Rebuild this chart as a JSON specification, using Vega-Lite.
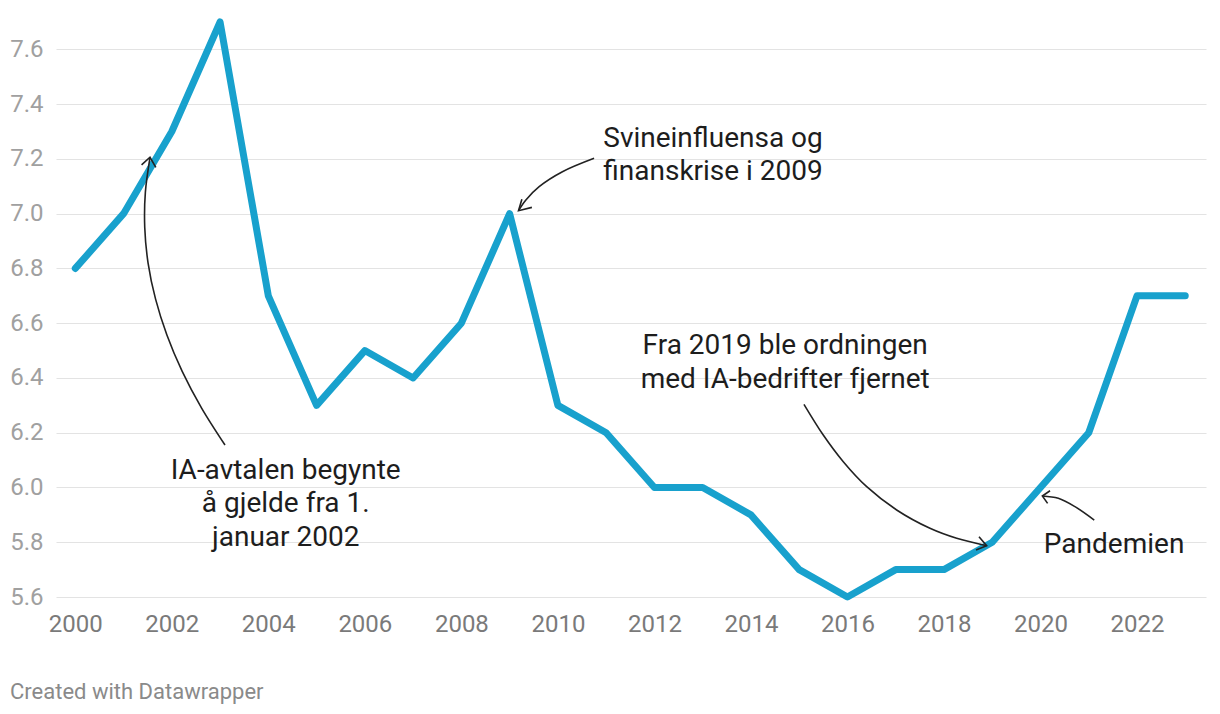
{
  "$schema": "https://vega.github.io/schema/vega-lite/v6.json",
  "width": 1150,
  "height": 575,
  "autosize": {"type": "none"},
  "padding": {"left": 56, "top": 22, "right": 14, "bottom": 117},
  "background": "#ffffff",
  "config": {
    "font": "Roboto",
    "view": {"stroke": null},
    "axis": {"domain": false, "ticks": false, "labelFont": "Roboto", "title": null}
  },
  "title": {
    "text": "Created with Datawrapper",
    "orient": "bottom",
    "anchor": "start",
    "frame": "group",
    "font": "Roboto",
    "fontSize": 22,
    "fontWeight": "normal",
    "color": "#8a8a8a",
    "dx": -46,
    "offset": 46
  },
  "datasets": {
    "series": [
      {"year": 2000, "value": 6.8},
      {"year": 2001, "value": 7.0},
      {"year": 2002, "value": 7.3},
      {"year": 2003, "value": 7.7},
      {"year": 2004, "value": 6.7},
      {"year": 2005, "value": 6.3},
      {"year": 2006, "value": 6.5},
      {"year": 2007, "value": 6.4},
      {"year": 2008, "value": 6.6},
      {"year": 2009, "value": 7.0},
      {"year": 2010, "value": 6.3},
      {"year": 2011, "value": 6.2},
      {"year": 2012, "value": 6.0},
      {"year": 2013, "value": 6.0},
      {"year": 2014, "value": 5.9},
      {"year": 2015, "value": 5.7},
      {"year": 2016, "value": 5.6},
      {"year": 2017, "value": 5.7},
      {"year": 2018, "value": 5.7},
      {"year": 2019, "value": 5.8},
      {"year": 2020, "value": 6.0},
      {"year": 2021, "value": 6.2},
      {"year": 2022, "value": 6.7},
      {"year": 2023, "value": 6.7}
    ],
    "curves": [
      {"arrow": "a1", "order": 1, "year": 2003.102, "value": 6.155},
      {"arrow": "a1", "order": 2, "year": 2002.617, "value": 6.2899},
      {"arrow": "a1", "order": 3, "year": 2002.215, "value": 6.4239},
      {"arrow": "a1", "order": 4, "year": 2001.898, "value": 6.5569},
      {"arrow": "a1", "order": 5, "year": 2001.662, "value": 6.6887},
      {"arrow": "a1", "order": 6, "year": 2001.508, "value": 6.8198},
      {"arrow": "a1", "order": 7, "year": 2001.439, "value": 6.9498},
      {"arrow": "a1", "order": 8, "year": 2001.452, "value": 7.0788},
      {"arrow": "a1", "order": 9, "year": 2001.548, "value": 7.206},
      {"arrow": "a2", "order": 1, "year": 2010.75, "value": 7.202},
      {"arrow": "a2", "order": 2, "year": 2010.094, "value": 7.153},
      {"arrow": "a2", "order": 3, "year": 2009.612, "value": 7.0985},
      {"arrow": "a2", "order": 4, "year": 2009.337, "value": 7.05},
      {"arrow": "a2", "order": 5, "year": 2009.184, "value": 7.011},
      {"arrow": "a3", "order": 1, "year": 2015.099, "value": 6.3038},
      {"arrow": "a3", "order": 2, "year": 2015.499, "value": 6.1916},
      {"arrow": "a3", "order": 3, "year": 2015.914, "value": 6.0941},
      {"arrow": "a3", "order": 4, "year": 2016.399, "value": 6.0028},
      {"arrow": "a3", "order": 5, "year": 2017.02, "value": 5.9177},
      {"arrow": "a3", "order": 6, "year": 2017.71, "value": 5.8509},
      {"arrow": "a3", "order": 7, "year": 2018.264, "value": 5.8144},
      {"arrow": "a3", "order": 8, "year": 2018.885, "value": 5.7873},
      {"arrow": "a4", "order": 1, "year": 2021.114, "value": 5.881},
      {"arrow": "a4", "order": 2, "year": 2020.715, "value": 5.93},
      {"arrow": "a4", "order": 3, "year": 2020.369, "value": 5.9605},
      {"arrow": "a4", "order": 4, "year": 2020.039, "value": 5.969}
    ],
    "heads": [
      {"arrow": "h1", "order": 1, "year": 2001.373, "value": 7.178},
      {"arrow": "h1", "order": 2, "year": 2001.548, "value": 7.206},
      {"arrow": "h1", "order": 3, "year": 2001.669, "value": 7.169},
      {"arrow": "h2", "order": 1, "year": 2009.254, "value": 7.0525},
      {"arrow": "h2", "order": 2, "year": 2009.184, "value": 7.011},
      {"arrow": "h2", "order": 3, "year": 2009.461, "value": 7.023},
      {"arrow": "h3", "order": 1, "year": 2018.726, "value": 5.8202},
      {"arrow": "h3", "order": 2, "year": 2018.885, "value": 5.7873},
      {"arrow": "h3", "order": 3, "year": 2018.664, "value": 5.7716},
      {"arrow": "h4", "order": 1, "year": 2020.198, "value": 5.988},
      {"arrow": "h4", "order": 2, "year": 2020.039, "value": 5.969},
      {"arrow": "h4", "order": 3, "year": 2020.148, "value": 5.942}
    ],
    "notesCenter": [
      {"year": 2004.36, "value": 6.031, "label": "IA-avtalen begynte\nå gjelde fra 1.\njanuar 2002"},
      {"year": 2014.71, "value": 6.486, "label": "Fra 2019 ble ordningen\nmed IA-bedrifter fjernet"}
    ],
    "notesLeft": [
      {"year": 2010.94, "value": 7.245, "label": "Svineinfluensa og\nfinanskrise i 2009"},
      {"year": 2020.07, "value": 5.7596, "label": "Pandemien"}
    ]
  },
  "layer": [
    {
      "data": {"name": "series"},
      "mark": {"type": "line", "color": "#18a1cd", "strokeWidth": 7, "strokeCap": "round", "strokeJoin": "round"},
      "encoding": {
        "x": {
          "field": "year", "type": "quantitative",
          "scale": {"domain": [1999.6, 2023.43], "nice": false, "zero": false},
          "axis": {
            "values": [2000, 2002, 2004, 2006, 2008, 2010, 2012, 2014, 2016, 2018, 2020, 2022],
            "format": "d", "grid": false, "labelFontSize": 24, "labelColor": "#7a7a7a",
            "labelPadding": 15, "labelFlush": false
          }
        },
        "y": {
          "field": "value", "type": "quantitative",
          "scale": {"domain": [5.6, 7.7], "nice": false, "zero": false},
          "axis": {
            "values": [5.6, 5.8, 6.0, 6.2, 6.4, 6.6, 6.8, 7.0, 7.2, 7.4, 7.6],
            "format": ".1f", "grid": true, "gridColor": "#e3e3e3", "gridWidth": 1.2,
            "labelFontSize": 24, "labelColor": "#a0a0a0", "labelPadding": 13,
            "labelBaseline": "middle"
          }
        }
      }
    },
    {
      "data": {"name": "curves"},
      "mark": {"type": "line", "color": "#222222", "strokeWidth": 1.6, "interpolate": "catmull-rom"},
      "encoding": {
        "x": {"field": "year", "type": "quantitative"},
        "y": {"field": "value", "type": "quantitative"},
        "detail": {"field": "arrow"},
        "order": {"field": "order"}
      }
    },
    {
      "data": {"name": "heads"},
      "mark": {"type": "line", "color": "#222222", "strokeWidth": 1.6},
      "encoding": {
        "x": {"field": "year", "type": "quantitative"},
        "y": {"field": "value", "type": "quantitative"},
        "detail": {"field": "arrow"},
        "order": {"field": "order"}
      }
    },
    {
      "data": {"name": "notesCenter"},
      "mark": {"type": "text", "align": "center", "baseline": "alphabetic", "fontSize": 28, "lineHeight": 33.5, "lineBreak": "\n", "color": "#1d1d1d", "font": "Roboto"},
      "encoding": {
        "x": {"field": "year", "type": "quantitative"},
        "y": {"field": "value", "type": "quantitative"},
        "text": {"field": "label"}
      }
    },
    {
      "data": {"name": "notesLeft"},
      "mark": {"type": "text", "align": "left", "baseline": "alphabetic", "fontSize": 28, "lineHeight": 33.5, "lineBreak": "\n", "color": "#1d1d1d", "font": "Roboto"},
      "encoding": {
        "x": {"field": "year", "type": "quantitative"},
        "y": {"field": "value", "type": "quantitative"},
        "text": {"field": "label"}
      }
    }
  ]
}
